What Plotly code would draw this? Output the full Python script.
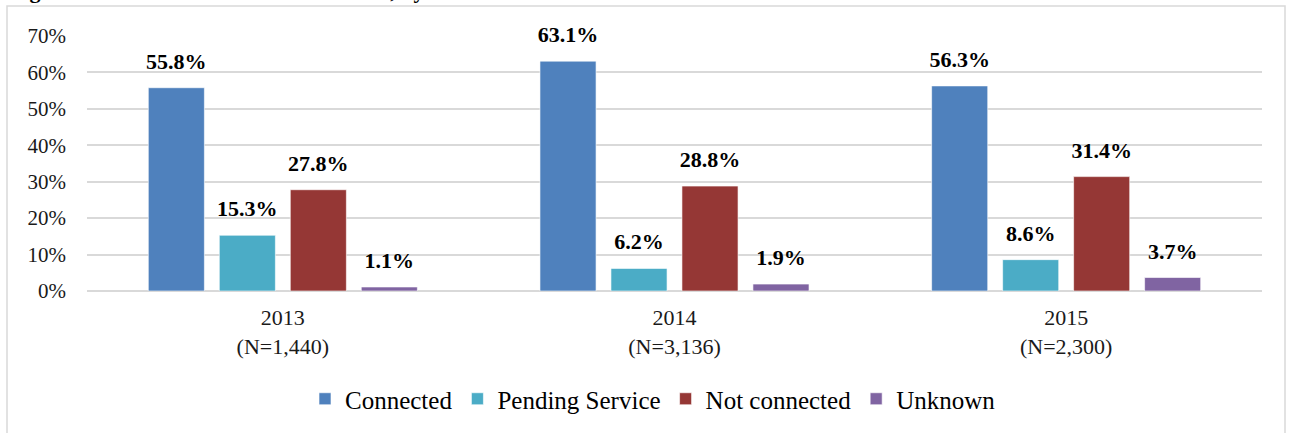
import plotly.graph_objects as go

categories = ["2013<br>(N=1,440)", "2014<br>(N=3,136)", "2015<br>(N=2,300)"]
series_names = ["Connected", "Pending Service", "Not connected", "Unknown"]
connected = [55.8, 63.1, 56.3]
pending = [15.3, 6.2, 8.6]
not_connected = [27.8, 28.8, 31.4]
unknown = [1.1, 1.9, 3.7]
colors = ["#4F81BD", "#4BACC6", "#953735", "#8064A2"]
y_ticks = [0, 10, 20, 30, 40, 50, 60, 70]
y_tick_text = [f"{v}%" for v in y_ticks]

FONT = '"Liberation Serif", "Times New Roman", serif'
W, H = 1292, 433
ML, MR, MT, MB = 87, 30, 36, 141
plot_h = H - MT - MB
plot_w = W - ML - MR

def py(pix):  # pixel y -> paper y
    return (H - MB - pix) / plot_h

def px(pix):
    return (pix - ML) / plot_w

fig = go.Figure()
all_series = [connected, pending, not_connected, unknown]
for i, (name, vals) in enumerate(zip(series_names, all_series)):
    fig.add_trace(go.Bar(
        x=categories, y=vals, name=name,
        marker=dict(color=colors[i], line=dict(color="rgba(255,255,255,0.6)", width=1)),
        offsetgroup=str(i), alignmentgroup="a",
    ))
for i, vals in enumerate(all_series):
    fig.add_trace(go.Scatter(
        x=categories, y=vals, mode="markers+text",
        text=[f"<b>{v:.1f}%</b>" for v in vals],
        textposition="top center",
        textfont=dict(family=FONT, size=22, color="#000000"),
        marker=dict(size=20, opacity=0),
        offsetgroup=str(i), alignmentgroup="a",
        showlegend=False, hoverinfo="skip", cliponaxis=False,
    ))

fig.update_layout(
    template="none",
    width=W, height=H,
    margin=dict(l=ML, r=MR, t=MT, b=MB),
    paper_bgcolor="white", plot_bgcolor="white",
    barmode="group", bargap=0.275, bargroupgap=0.21,
    scattermode="group", scattergap=0.275,
    font=dict(family=FONT, size=21, color="#000000"),
    showlegend=True,
    legend=dict(orientation="h", x=px(653), xanchor="center", y=py(399), yanchor="middle",
                font=dict(family=FONT, size=25, color="#000000"), traceorder="normal",
                itemwidth=30),
    xaxis=dict(showgrid=False, showline=False, ticks="", ticklabelstandoff=11,
               automargin=False,
               tickfont=dict(family=FONT, size=22, color="#1a1a1a")),
    yaxis=dict(range=[0, 70], tickmode="array", tickvals=y_ticks, ticktext=y_tick_text,
               showgrid=True, automargin=False,
               gridcolor="#D9D9D9", gridwidth=1.5, zeroline=True, zerolinecolor="#D9D9D9",
               zerolinewidth=1.5, showline=False, ticks="", ticklabelstandoff=20,
               tickfont=dict(family=FONT, size=21, color="#1a1a1a")),
    shapes=[dict(type="rect", xref="paper", yref="paper",
                 x0=px(7), x1=px(1285), y0=py(445), y1=py(6),
                 line=dict(color="#D9D9D9", width=1.5), fillcolor="rgba(0,0,0,0)", layer="below")],
    annotations=[dict(text="<b>Figure 2: Connection Status of Referrals, by Year</b>",
                      xref="paper", yref="paper", x=px(8), y=py(5), xanchor="left", yanchor="bottom",
                      showarrow=False, font=dict(family=FONT, size=22, color="#000000"))],
)

fig.write_html("out.html", config={"displayModeBar": False},
               post_script="document.body.style.margin='0';document.body.style.padding='0';")
